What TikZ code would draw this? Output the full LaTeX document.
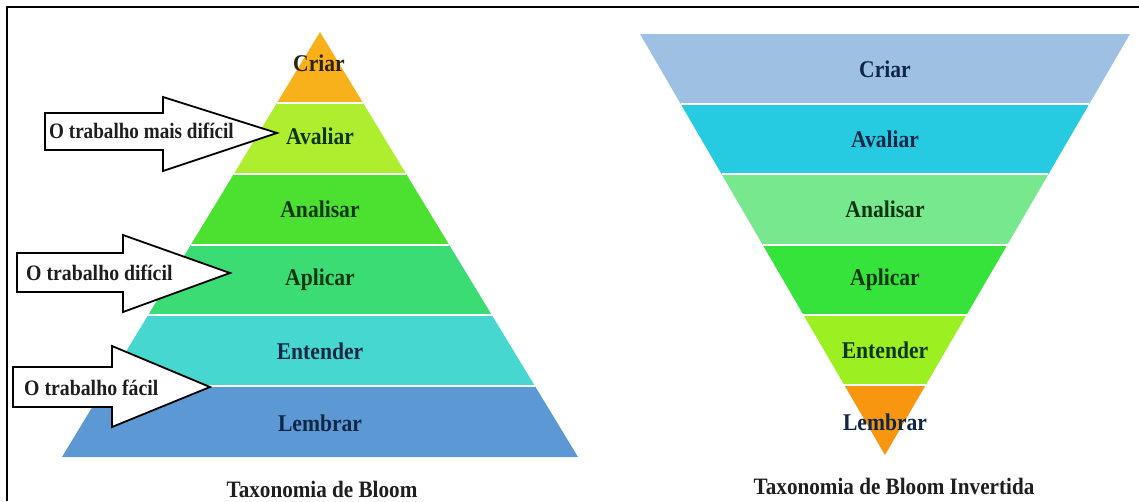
\documentclass[tikz,border=0pt]{standalone}
\usepackage{fontspec}
\setmainfont{Liberation Serif}
\definecolor{lCriar}{HTML}{F8B11B}
\definecolor{lAval}{HTML}{AEEE2E}
\definecolor{lAnal}{HTML}{4CE131}
\definecolor{lApl}{HTML}{3BDC73}
\definecolor{lEnt}{HTML}{46D8D0}
\definecolor{lLem}{HTML}{5B98D4}
\definecolor{rCriar}{HTML}{9DC0E3}
\definecolor{rAval}{HTML}{26CBE2}
\definecolor{rAnal}{HTML}{78E88F}
\definecolor{rApl}{HTML}{35E33B}
\definecolor{rEnt}{HTML}{9CEF20}
\definecolor{rLem}{HTML}{F8970F}
\definecolor{tBrown}{HTML}{2E2208}
\definecolor{tGreen}{HTML}{0E3512}
\definecolor{tNavy}{HTML}{0F2747}
\definecolor{tDark}{HTML}{1E1E1E}
\newcommand{\sqz}[1]{\scalebox{0.9}[1]{#1}}
\begin{document}
\begin{tikzpicture}[x=1pt,y=-1pt,
  lbl/.style={font=\fontsize{24}{28}\selectfont\bfseries, inner sep=0pt, anchor=center},
  ttl/.style={font=\fontsize{23.5}{28}\selectfont\bfseries, inner sep=0pt, anchor=center, text=tDark},
  arrtxt/.style={font=\fontsize{22}{26}\selectfont\bfseries, inner sep=0pt, anchor=west, text=tDark},
  sep/.style={white, line width=2pt},
  bigarrow/.style={draw=black, fill=white, line width=1.8pt, line join=miter}]
\useasboundingbox (0,0) rectangle (1139,501);
\fill[white] (0,0) rectangle (1139,501);
% frame
\draw[line width=2pt] (7,501) -- (7,7) -- (1139,7);

% ---- left pyramid: apex (320,32), base y=457, half widths step 43
\fill[lCriar] (320,32) -- (363,102.83) -- (277,102.83) -- cycle;
\fill[lAval] (277,102.83) -- (363,102.83) -- (406,173.67) -- (234,173.67) -- cycle;
\fill[lAnal] (234,173.67) -- (406,173.67) -- (449,244.5) -- (191,244.5) -- cycle;
\fill[lApl] (191,244.5) -- (449,244.5) -- (492,315.33) -- (148,315.33) -- cycle;
\fill[lEnt] (148,315.33) -- (492,315.33) -- (535,386.17) -- (105,386.17) -- cycle;
\fill[lLem] (105,386.17) -- (535,386.17) -- (578,457) -- (62,457) -- cycle;
\draw[sep] (277,102.83) -- (363,102.83);
\draw[sep] (234,173.67) -- (406,173.67);
\draw[sep] (191,244.5) -- (449,244.5);
\draw[sep] (148,315.33) -- (492,315.33);
\draw[sep] (105,386.17) -- (535,386.17);

\node[lbl, text=tBrown] (lc) at (319,63) {\sqz{Criar}};
\node[lbl, text=tGreen] (lv) at (320,136) {\sqz{Avaliar}};
\node[lbl, text=tGreen] (ln) at (320,209) {\sqz{Analisar}};
\node[lbl, text=tGreen] (lp) at (320,280) {\sqz{Aplicar}};
\node[lbl, text=tNavy] (le) at (320,351) {\sqz{Entender}};
\node[lbl, text=tNavy] (ll) at (320,423) {\sqz{Lembrar}};
\node[ttl] (lt) at (322,489) {\sqz{Taxonomia de Bloom}};

% ---- arrows
\draw[bigarrow] (45,113) -- (163,113) -- (163,97) -- (277,133) -- (163,171) -- (163,150) -- (45,150) -- cycle;
\node[arrtxt] (a1) at (49,131) {\scalebox{0.87}[1]{O trabalho mais difícil}};
\draw[bigarrow] (17,253) -- (123,253) -- (123,235) -- (230,273) -- (123,312) -- (123,292) -- (17,292) -- cycle;
\node[arrtxt] (a2) at (26,273) {\sqz{O trabalho difícil}};
\draw[bigarrow] (13,367) -- (112,367) -- (112,346) -- (210,387) -- (112,427) -- (112,407) -- (13,407) -- cycle;
\node[arrtxt] (a3) at (24,388) {\sqz{O trabalho fácil}};

% ---- right inverted pyramid: top y=34 half 245, apex (885,455)
\fill[rCriar] (640,34) -- (1130,34) -- (1089.17,104.17) -- (680.83,104.17) -- cycle;
\fill[rAval] (680.83,104.17) -- (1089.17,104.17) -- (1048.33,174.33) -- (721.67,174.33) -- cycle;
\fill[rAnal] (721.67,174.33) -- (1048.33,174.33) -- (1007.5,244.5) -- (762.5,244.5) -- cycle;
\fill[rApl] (762.5,244.5) -- (1007.5,244.5) -- (966.67,314.67) -- (803.33,314.67) -- cycle;
\fill[rEnt] (803.33,314.67) -- (966.67,314.67) -- (925.83,384.83) -- (844.17,384.83) -- cycle;
\fill[rLem] (844.17,384.83) -- (925.83,384.83) -- (885,455) -- cycle;
\draw[sep] (680.83,104.17) -- (1089.17,104.17);
\draw[sep] (721.67,174.33) -- (1048.33,174.33);
\draw[sep] (762.5,244.5) -- (1007.5,244.5);
\draw[sep] (803.33,314.67) -- (966.67,314.67);
\draw[sep] (844.17,384.83) -- (925.83,384.83);

\node[lbl, text=tNavy] (rc) at (885,69) {\sqz{Criar}};
\node[lbl, text=tNavy] (rv) at (885,139) {\sqz{Avaliar}};
\node[lbl, text=tGreen] (rn) at (885,209) {\sqz{Analisar}};
\node[lbl, text=tGreen] (rp) at (885,280) {\sqz{Aplicar}};
\node[lbl, text=tGreen] (re) at (885,350) {\sqz{Entender}};
\node[lbl, text=tNavy] (rl) at (885,422) {\sqz{Lembrar}};
\node[ttl] (rt) at (894,486) {\sqz{Taxonomia de Bloom Invertida}};
\end{tikzpicture}
\end{document}
